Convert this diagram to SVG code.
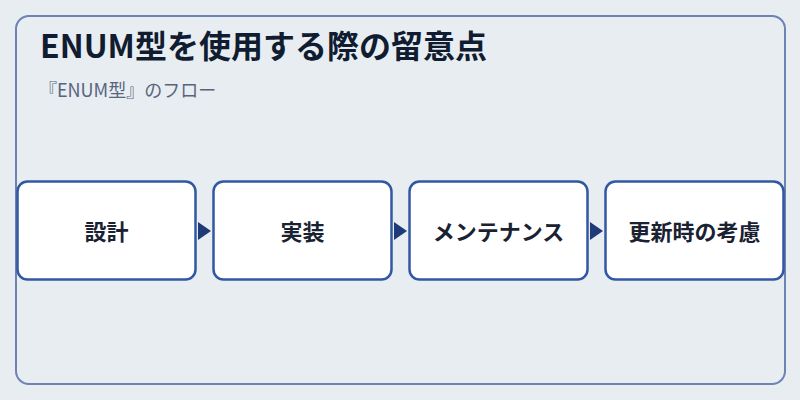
<svg xmlns="http://www.w3.org/2000/svg" width="800" height="400" viewBox="0 0 800 400">
<defs>
<style>
.frame{fill:#e8edf2;stroke:#6b84b3;stroke-width:2}
.box{fill:#ffffff;stroke:#3358a3;stroke-width:2.5}
.lbl{font-family:"Noto Sans CJK JP","Noto Sans",sans-serif;font-size:22px;font-weight:bold;fill:#1a2232;text-anchor:middle}
.title{font-family:"Noto Sans CJK JP","Noto Sans",sans-serif;font-size:32px;font-weight:bold;fill:#101c30}
.sub{font-family:"Noto Sans CJK JP","Noto Sans",sans-serif;font-size:18px;fill:#56657c}
.arr{fill:#1f3a78}
</style>
</defs>
<rect width="800" height="400" fill="#e8edf2"/>
<rect class="frame" x="16" y="16" width="769" height="368" rx="13"/>
<text class="title" x="40" y="58">ENUM型を使用する際の留意点</text>
<text class="sub" x="39" y="96.5">『ENUM型』のフロー</text>
<g id="connectors">
<polygon class="arr" points="198,222 211,231 198,240"/>
<polygon class="arr" points="394,222 407,231 394,240"/>
<polygon class="arr" points="590,222 603,231 590,240"/>
</g>
<g id="n1"><rect class="box" x="17.5" y="181.5" width="178" height="98" rx="10"/><text class="lbl" x="106.5" y="239.5">設計</text></g>
<g id="n2"><rect class="box" x="213.5" y="181.5" width="178" height="98" rx="10"/><text class="lbl" x="302.5" y="239.5">実装</text></g>
<g id="n3"><rect class="box" x="409.5" y="181.5" width="178" height="98" rx="10"/><text class="lbl" x="498.5" y="239.5">メンテナンス</text></g>
<g id="n4"><rect class="box" x="605.5" y="181.5" width="178" height="98" rx="10"/><text class="lbl" x="694.5" y="239.5">更新時の考慮</text></g>
</svg>
